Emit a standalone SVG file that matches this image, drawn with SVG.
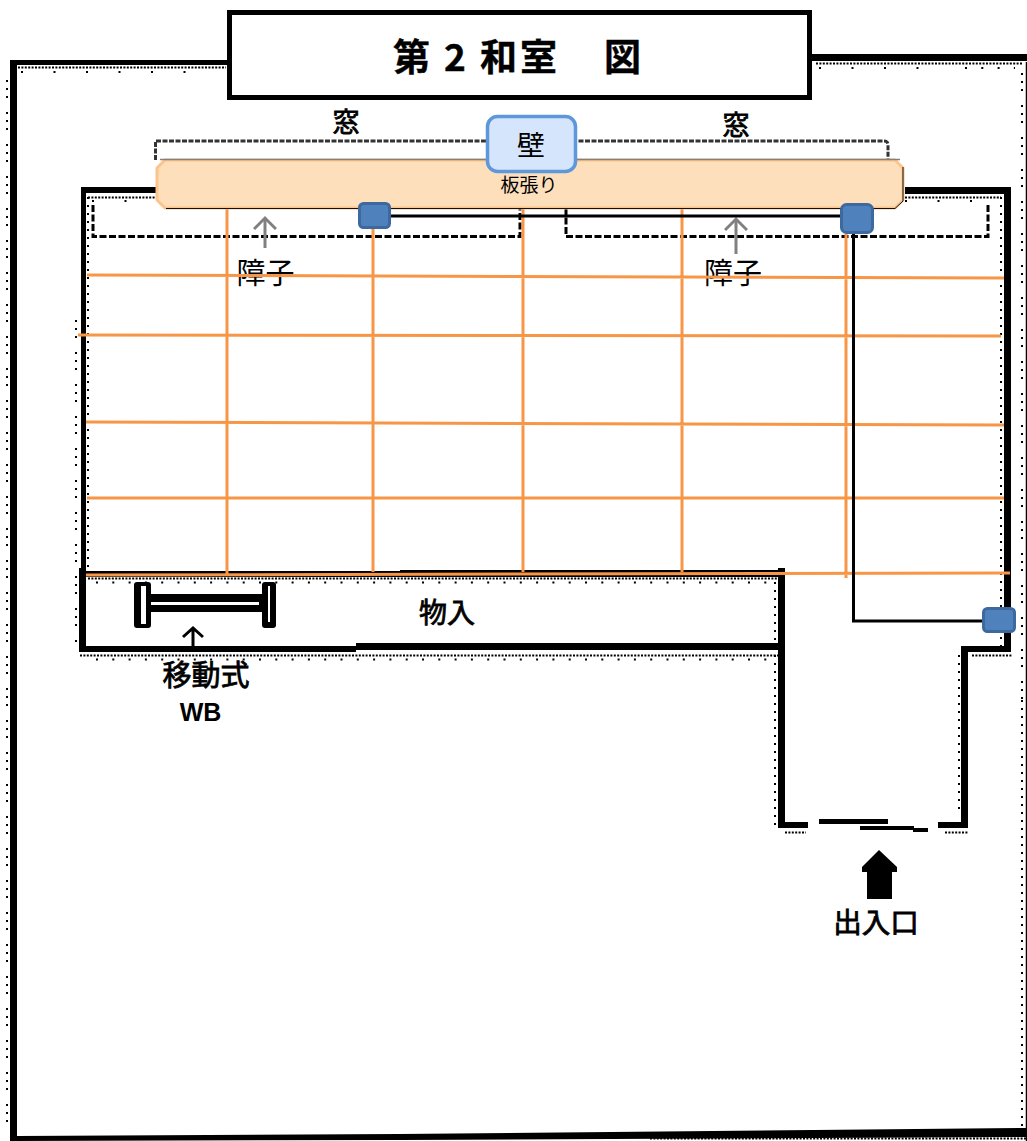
<svg xmlns="http://www.w3.org/2000/svg" width="1027" height="1141" viewBox="0 0 1027 1141">
<style>
.dh{fill:none;stroke:#000;stroke-width:2;stroke-dasharray:2 1.400}
.ds{fill:none;stroke:#000;stroke-width:2;stroke-dasharray:2 30.500}
.dm{fill:none;stroke:#000;stroke-width:2;stroke-dasharray:2 14.300}
.dv{fill:none;stroke:#000;stroke-width:2;stroke-dasharray:2 6}
.dg{fill:none;stroke:#000;stroke-width:2;stroke-dasharray:2 6 2 6 2 14}
.o{fill:none;stroke:#f79646;stroke-width:3}
.t{font-family:"Noto Sans CJK JP",sans-serif;fill:#000;stroke:#000;stroke-width:.8;text-anchor:middle}
.s{font-family:"Noto Sans CJK JP",sans-serif;fill:#000;text-anchor:middle}
.blue{fill:#4f81bd;stroke:#3d699e;stroke-width:3}
.sh{fill:none;stroke:#000;stroke-width:3;stroke-dasharray:7 2.500}
</style>
<defs>
<marker id="g" markerWidth="24" markerHeight="24" refX="12" refY="12" orient="auto" markerUnits="userSpaceOnUse"><path d="M1 1L12 12L1 23" fill="none" stroke="#808080" stroke-width="3"/></marker>
</defs>
<rect width="1027" height="1141" fill="#fff"/>
<g id="outer-wall">
<path class="dh" d="M18 67.500H226M816 63.500H1022"/>
<path class="ds" d="M21 72H216M819 68H948"/>
<path class="dm" d="M965 68H1015"/>
<path class="dg" d="M7 80V1130M1022 73V700"/>
<path class="dv" d="M1022 700V1130"/>
<path d="M1026.500 62V1141" stroke="#000" stroke-width="1.500"/>
<path fill="#000" d="M10 60H228V65H17V1136L400 1134L1027 1128V1137L400 1140L10 1141Z"/>
<path fill="#000" d="M812 54H1027V61H812Z"/>
<path class="dh" d="M650 1138.500H1027"/>
</g>
<g id="title">
<rect x="229.500" y="12.500" width="580" height="85" fill="#fff" stroke="#000" stroke-width="5"/>
<text font-family="&quot;Noto Sans CJK JP&quot;,sans-serif" font-size="37" font-weight="700" stroke="#000" stroke-width=".4" y="71" x="393 430 444 466 480 520 560 604">第 2 和室　図</text>
</g>
<g id="room">
<path class="dh" d="M88 197.500H156M905 197.500H1001M88 578.500H778M80 655.500H778M972 655.500H1012M785 832.500H806M945 832.500H968"/>
<path class="ds" d="M92 201H155M905 201H1000"/>
<path class="dv" d="M88 197V568M1001 197V650M775 582V640M775 655V830M959 655V815"/>
<path class="dg" d="M76 320V645"/>
<path class="dm" d="M96 582.500H778M96 659.500H778"/>
<g fill="#000">
<path d="M81 187H156V193H86V568H81Z"/>
<path d="M79 568H86V652H79Z"/>
<path d="M79 646H356V645H785V649H356V652H79Z"/>
<path d="M356 643H785V650H356Z"/>
<path d="M778 568H785V822H808V828H778Z"/>
<path d="M905 187H1009V194H905Z"/>
<path d="M1004 187H1011V652H968V828H938V822H961V646H1004Z"/>
<path d="M86 571H400V570H785V577H86Z"/>
<path d="M819 819H888V824H819ZM860 826H914V828H928V832H913V830H860Z"/>
</g>
</g>
<g id="windows">
<path fill="#fff" stroke="#333" stroke-width="3" stroke-dasharray="5 1.500" d="M155.500 160V141H884Q888 141 888 145V160"/>
<text class="t" x="346" y="132" font-size="27">窓</text>
<text class="t" x="736" y="135" font-size="27">窓</text>
</g>
<g id="shoji">
<path class="sh" d="M93 205V236.500H520V208M566 208V236.500H988V203"/>
<path d="M265 248V218" stroke="#808080" stroke-width="3" fill="none" marker-end="url(#g)"/>
<path d="M736 254V219" stroke="#808080" stroke-width="3" fill="none" marker-end="url(#g)"/>
<text class="s" x="265.500" y="284" font-size="29">障子</text>
<text class="s" x="733" y="284" font-size="29">障子</text>
</g>
<g id="tatami">
<path class="o" d="M87 275L1004 278M78 335L1001 336M86 422L1004 425M87 498L1004 498M86 575L1010 573M227 208V574M373 228V572M523 208V572M682 208V572M846 234V578"/>
</g>
<g id="board">
<path d="M165 160H895L903 168V200L895 208H165L157 200V168Z" fill="#fddfbc" stroke="#fcc48a" stroke-width="3"/>
<path d="M160 159.500H900" stroke="#808080" stroke-width="1.500"/>
<path d="M166 208.500H895L903 201V167" fill="none" stroke="#111" stroke-width="1"/>
<text class="s" x="529" y="192" font-size="19">板張り</text>
</g>
<g id="wall-label">
<rect x="487.500" y="116.500" width="88" height="55" rx="10" fill="#d5e5fb" stroke="#5f97db" stroke-width="3.500"/>
<text class="s" x="531" y="156" font-size="28">壁</text>
</g>
<g id="connectors">
<path d="M390 216H843" stroke="#000" stroke-width="3" fill="none"/>
<path d="M853.500 234V621H991" stroke="#000" stroke-width="3" fill="none"/>
</g>
<g id="sensor-1"><rect x="359.500" y="203.500" width="30" height="24" rx="4" class="blue"/></g>
<g id="sensor-2"><rect x="841.500" y="204.500" width="31" height="28" rx="5" class="blue"/></g>
<g id="sensor-3"><rect x="983.500" y="608.500" width="31" height="23" rx="4" class="blue"/></g>
<g id="storage">
<text class="t" x="447" y="623" font-size="28">物入</text>
<rect x="151" y="594" width="111" height="18" fill="#000"/>
<rect x="151" y="602" width="108" height="3" fill="#fff"/>
<rect x="134" y="582" width="17" height="46" rx="3" fill="#000"/>
<rect x="141" y="586" width="5" height="38" fill="#fff"/>
<rect x="262" y="582" width="14" height="46" rx="3" fill="#000"/>
<rect x="268" y="586" width="2" height="36" fill="#fff"/>
<path d="M193 646V628M183 637L193 628L203 637" stroke="#000" stroke-width="3" fill="none"/>
<text class="t" x="206" y="686" font-size="29">移動式</text>
<text x="200.500" y="721" font-size="25" font-weight="700" text-anchor="middle" font-family="Liberation Sans,sans-serif">WB</text>
</g>
<g id="entrance">
<path d="M879 850L862 867V872H867V899H892V872H897V867Z" fill="#000"/>
<text class="t" x="876" y="933" font-size="28.500">出入口</text>
</g>
</svg>
